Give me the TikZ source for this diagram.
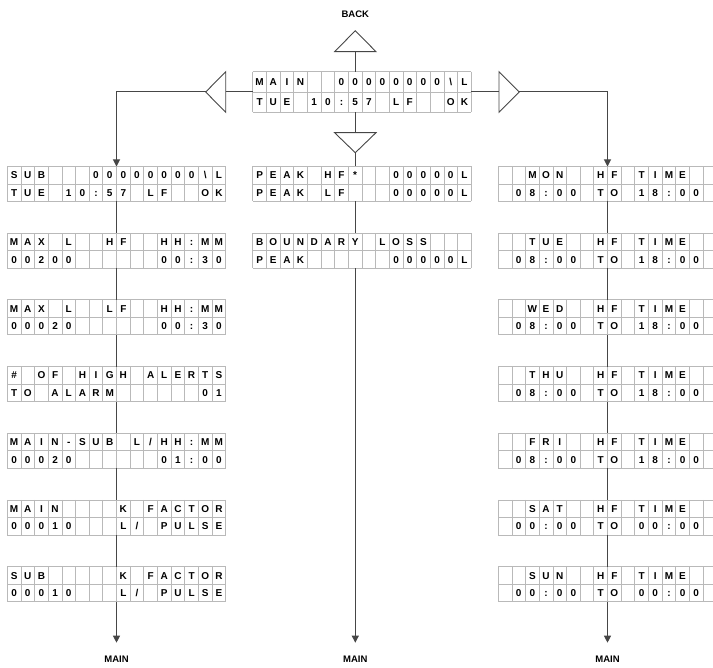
\documentclass[tikz,border=0pt]{standalone}
\usepackage{fontspec}
\setmainfont{Liberation Sans}
\usetikzlibrary{positioning,arrows.meta}

\definecolor{gridgray}{RGB}{185,185,185}
\definecolor{linegray}{RGB}{70,70,70}

\newcommand{\cellw}{13.65pt}

\tikzset{
  lcdbox/.style={rectangle, minimum width=16*\cellw, inner sep=0pt, outer sep=0pt},
  lcdgrid/.style={draw=gridgray, line width=0.8pt},
  lcdchar/.style={font=\bfseries\fontsize{10}{10}\selectfont, inner sep=0pt, text height=7.2pt, text depth=0pt},
  conn/.style={draw=linegray, line width=1pt},
  tri/.style={draw=linegray, line width=0.9pt},
  navlabel/.style={font=\bfseries\fontsize{9.5}{9.5}\selectfont, inner sep=0pt},
  >={Triangle[length=7pt,width=7pt]},
}

% display: name, centre x, centre y, row height, first row, second row
\newcommand{\lcd}[6]{%
  \node[lcdbox, minimum height=2*#4] (#1) at (#2,#3) {};
  \begin{scope}[shift={(#1.north west)}, x=\cellw, y=-#4]
    \foreach \k in {0,...,16} \draw[lcdgrid] (\k,0) -- (\k,2);
    \foreach \r in {0,1,2} \draw[lcdgrid] (0,\r) -- (16,\r);
    \foreach \ch [count=\k from 0] in {#5} \node[lcdchar] at (\k+0.5,0.5) {\ch};
    \foreach \ch [count=\k from 0] in {#6} \node[lcdchar] at (\k+0.5,1.5) {\ch};
  \end{scope}}

\begin{document}
\begin{tikzpicture}[x=1pt,y=-1pt]
  \useasboundingbox (0,0) rectangle (713,668);
  \clip (0,0) rectangle (713,668);

  % main screen
  \lcd{home}{362}{92}{20.3pt}{M,A,I,N,,,0,0,0,0,0,0,0,0,\textbackslash,L}{T,U,E,,1,0,:,5,7,,L,F,,,O,K}

  % left column
  \lcd{sub}{116.5}{184}{17.5pt}{S,U,B,,,,0,0,0,0,0,0,0,0,\textbackslash,L}{T,U,E,,1,0,:,5,7,,L,F,,,O,K}
  \lcd{maxhf}{116.5}{250.7}{17.5pt}{M,A,X,,L,,,H,F,,,H,H,:,M,M}{0,0,2,0,0,,,,,,,0,0,:,3,0}
  \lcd{maxlf}{116.5}{317.4}{17.5pt}{M,A,X,,L,,,L,F,,,H,H,:,M,M}{0,0,0,2,0,,,,,,,0,0,:,3,0}
  \lcd{alerts}{116.5}{384.1}{17.5pt}{\#,,O,F,,H,I,G,H,,A,L,E,R,T,S}{T,O,,A,L,A,R,M,,,,,,,0,1}
  \lcd{mainsub}{116.5}{450.8}{17.5pt}{M,A,I,N,-,S,U,B,,L,/,H,H,:,M,M}{0,0,0,2,0,,,,,,,0,1,:,0,0}
  \lcd{mainkf}{116.5}{517.5}{17.5pt}{M,A,I,N,,,,,K,,F,A,C,T,O,R}{0,0,0,1,0,,,,L,/,,P,U,L,S,E}
  \lcd{subkf}{116.5}{584.2}{17.5pt}{S,U,B,,,,,,K,,F,A,C,T,O,R}{0,0,0,1,0,,,,L,/,,P,U,L,S,E}

  % middle column
  \lcd{peakhf}{362}{184}{17.5pt}{P,E,A,K,,H,F,*,,,0,0,0,0,0,L}{P,E,A,K,,L,F,,,,0,0,0,0,0,L}
  \lcd{boundary}{362}{250.7}{17.5pt}{B,O,U,N,D,A,R,Y,,L,O,S,S,,,}{P,E,A,K,,,,,,,0,0,0,0,0,L}

  % right column
  \lcd{mon}{607.5}{184}{17.5pt}{,,M,O,N,,,H,F,,T,I,M,E,,}{,0,8,:,0,0,,T,O,,1,8,:,0,0,}
  \lcd{tue}{607.5}{250.7}{17.5pt}{,,T,U,E,,,H,F,,T,I,M,E,,}{,0,8,:,0,0,,T,O,,1,8,:,0,0,}
  \lcd{wed}{607.5}{317.4}{17.5pt}{,,W,E,D,,,H,F,,T,I,M,E,,}{,0,8,:,0,0,,T,O,,1,8,:,0,0,}
  \lcd{thu}{607.5}{384.1}{17.5pt}{,,T,H,U,,,H,F,,T,I,M,E,,}{,0,8,:,0,0,,T,O,,1,8,:,0,0,}
  \lcd{fri}{607.5}{450.8}{17.5pt}{,,F,R,I,,,H,F,,T,I,M,E,,}{,0,8,:,0,0,,T,O,,1,8,:,0,0,}
  \lcd{sat}{607.5}{517.5}{17.5pt}{,,S,A,T,,,H,F,,T,I,M,E,,}{,0,0,:,0,0,,T,O,,0,0,:,0,0,}
  \lcd{sun}{607.5}{584.2}{17.5pt}{,,S,U,N,,,H,F,,T,I,M,E,,}{,0,0,:,0,0,,T,O,,0,0,:,0,0,}

  % navigation triangles
  \coordinate (utip) at (355.3,30.7);
  \coordinate (ubase) at (355.3,51.7);
  \coordinate (dbase) at (355.3,132.7);
  \coordinate (dtip) at (355.3,152.7);
  \coordinate (ltip) at (205.7,92);
  \coordinate (lbase) at (225.7,92);
  \coordinate (rbase) at (499,92);
  \coordinate (rtip) at (519.3,92);
  \draw[tri] (utip) -- (376,51.7) -- (334.6,51.7) -- cycle;
  \draw[tri] (dtip) -- (376,132.7) -- (334.6,132.7) -- cycle;
  \draw[tri] (ltip) -- (225.7,71.7) -- (225.7,112.3) -- cycle;
  \draw[tri] (rtip) -- (499,71.7) -- (499,112.3) -- cycle;

  \node[navlabel, above=13pt of utip] (back) {BACK};

  % ends of the three columns
  \coordinate (lend) at (116.5,642.7);
  \coordinate (mend) at (355.3,642.7);
  \coordinate (rend) at (607.5,642.7);
  \node[navlabel, below=13.5pt of lend] (mainl) {MAIN};
  \node[navlabel, below=13.5pt of mend] (mainm) {MAIN};
  \node[navlabel, below=13.5pt of rend] (mainr) {MAIN};

  % connectors round the main screen
  \draw[conn] (home.north -| ubase) -- (ubase);
  \draw[conn] (home.south -| dbase) -- (dbase);
  \draw[conn] (lbase) -- (home.west);
  \draw[conn] (home.east) -- (rbase);
  \draw[conn,->] (ltip) -| (sub.north);
  \draw[conn,->] (rtip) -| (mon.north);
  \draw[conn] (dtip) -- (peakhf.north -| dtip);

  % left column
  \draw[conn] (sub.south) -- (maxhf.north);
  \draw[conn] (maxhf.south) -- (maxlf.north);
  \draw[conn] (maxlf.south) -- (alerts.north);
  \draw[conn] (alerts.south) -- (mainsub.north);
  \draw[conn] (mainsub.south) -- (mainkf.north);
  \draw[conn] (mainkf.south) -- (subkf.north);
  \draw[conn,->] (subkf.south) -- (lend);

  % middle column
  \draw[conn] (peakhf.south -| dtip) -- (boundary.north -| dtip);
  \draw[conn,->] (boundary.south -| dtip) -- (mend);

  % right column
  \draw[conn] (mon.south) -- (tue.north);
  \draw[conn] (tue.south) -- (wed.north);
  \draw[conn] (wed.south) -- (thu.north);
  \draw[conn] (thu.south) -- (fri.north);
  \draw[conn] (fri.south) -- (sat.north);
  \draw[conn] (sat.south) -- (sun.north);
  \draw[conn,->] (sun.south) -- (rend);
\end{tikzpicture}
\end{document}
